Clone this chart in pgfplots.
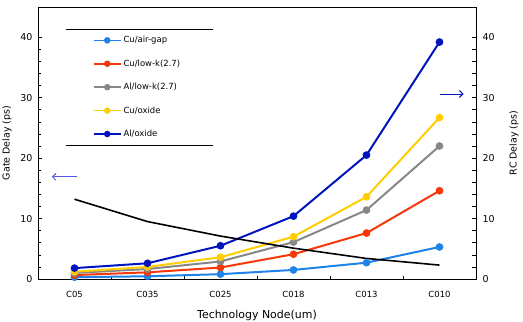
\documentclass[border=0pt]{standalone}
\usepackage{pgfplots}
\pgfplotsset{compat=1.18}
\usetikzlibrary{arrows.meta}
\usepackage{fontspec}
\setmainfont{DejaVu Sans}

\definecolor{airgap}{RGB}{30,130,235}
\definecolor{lowkcu}{RGB}{245,55,10}
\definecolor{lowkal}{RGB}{135,135,135}
\definecolor{oxcu}{RGB}{255,205,0}
\definecolor{oxal}{RGB}{0,20,190}
\definecolor{leftarrow}{RGB}{85,85,225}

\begin{document}
\begin{tikzpicture}
\useasboundingbox (-38bp,-43bp) rectangle (485bp,279bp);
\begin{axis}[
  at={(0,0)}, anchor=south west,
  scale only axis, width=438bp, height=272bp,
  xmin=-0.5, xmax=5.5, ymin=0, ymax=45,
  xtick={0,...,5},
  xticklabels={C05,C035,C025,C018,C013,C010},
  major x tick style={draw=none},
  minor xtick={0.5,1.5,2.5,3.5,4.5},
  xtick pos=bottom,
  ytick={0,10,...,40},
  minor y tick num=4,
  ytick pos=both, yticklabel pos=left,
  tick align=inside,
  major tick length=4bp, minor tick length=3.5bp,
  tick style={black, line width=0.6pt},
  axis line style={black, line width=0.8pt},
  /pgf/number format/assume math mode=true,
  yticklabel style={font=\fontsize{9.5}{11}\selectfont, xshift=-2bp},
  xticklabel style={font=\fontsize{8.5}{10}\selectfont, yshift=-9bp},
  xlabel={Technology Node(um)},
  xlabel style={font=\fontsize{11}{13}\selectfont, yshift=-5bp},
  ylabel={Gate Delay (ps)},
  ylabel style={font=\fontsize{9.5}{11}\selectfont, yshift=2bp},
  every axis plot/.append style={line width=2pt, mark=*, mark size=2.8bp, mark options={solid}},
  legend style={at={(axis cs:0.25,40.5)}, anchor=north west, draw=none, fill=none,
    font=\fontsize{8.5}{10}\selectfont, row sep=11.5bp, inner sep=0pt, cells={anchor=west}},
  legend image code/.code={%
    \draw[#1, line width=1.6pt, mark=none] (0bp,0bp) -- (27bp,0bp);
    \draw[#1, only marks, mark size=2.2bp] plot coordinates {(13.5bp,0bp)};},
  legend cell align=left,
]
% Cu with air-gap dielectric
\addplot[color=airgap] coordinates {(0,0.3) (1,0.45) (2,0.8) (3,1.5) (4,2.7) (5,5.3)};
\addlegendentry{Cu/air-gap}
% Cu with low-k (2.7)
\addplot[color=lowkcu] coordinates {(0,0.65) (1,1.1) (2,1.9) (3,4.1) (4,7.6) (5,14.6)};
\addlegendentry{Cu/low-k(2.7)}
% Al with low-k (2.7)
\addplot[color=lowkal] coordinates {(0,1.0) (1,1.65) (2,2.9) (3,6.1) (4,11.4) (5,22.0)};
\addlegendentry{Al/low-k(2.7)}
% Cu with oxide
\addplot[color=oxcu] coordinates {(0,1.2) (1,2.0) (2,3.6) (3,7.0) (4,13.6) (5,26.7)};
\addlegendentry{Cu/oxide}
% Al with oxide
\addplot[color=oxal] coordinates {(0,1.8) (1,2.6) (2,5.5) (3,10.4) (4,20.5) (5,39.2)};
\addlegendentry{Al/oxide}
% gate delay
\addplot[black, line width=1.6pt, mark=none, forget plot] coordinates {(0,13.2) (1,9.5) (2,7.1) (3,5.1) (4,3.4) (5,2.3)};

% rules above and below the legend
\draw[black, line width=0.8pt] (axis cs:-0.12,41.3) -- (axis cs:1.9,41.3);
\draw[black, line width=0.8pt] (axis cs:-0.12,22.1) -- (axis cs:1.9,22.1);

% axis pointers
\draw[leftarrow, line width=1pt, -{Straight Barb[length=3.5bp]}] (axis cs:0.04,16.9) -- (axis cs:-0.31,16.9);
\draw[oxal, line width=1pt, -{Straight Barb[length=3.5bp]}] (axis cs:5.01,30.6) -- (axis cs:5.33,30.6);
\end{axis}
\begin{axis}[
  at={(0,0)}, anchor=south west,
  scale only axis, width=438bp, height=272bp,
  xmin=-0.5, xmax=5.5, ymin=0, ymax=45,
  hide x axis,
  axis y line*=right,
  ytick={0,10,...,40},
  major tick length=0pt,
  axis line style={black, line width=0.8pt},
  /pgf/number format/assume math mode=true,
  yticklabel style={font=\fontsize{9.5}{11}\selectfont, xshift=3bp},
  ylabel={RC Delay (ps)},
  ylabel style={font=\fontsize{9.5}{11}\selectfont, yshift=-8bp},
]
\end{axis}
\end{tikzpicture}
\end{document}
